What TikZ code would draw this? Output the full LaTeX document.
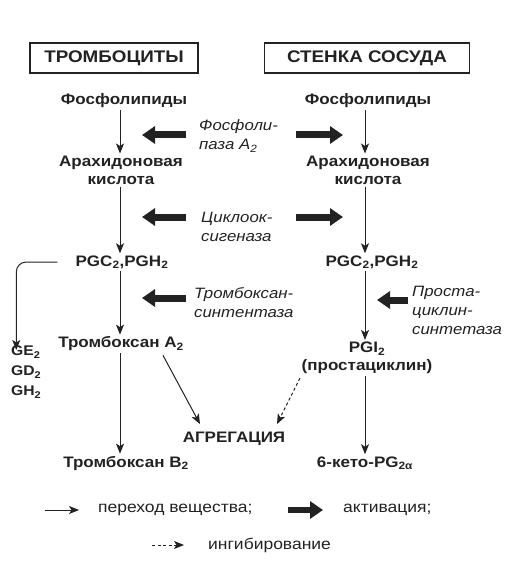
\documentclass[tikz,border=0pt]{standalone}
\usepackage{fontspec}
\setmainfont{Liberation Sans}[FakeStretch=1.12]
\usepackage{xcolor}
\definecolor{inkdark}{HTML}{222222}
\usetikzlibrary{arrows.meta, positioning}

\begin{document}
\begin{tikzpicture}[x=1pt, y=-1pt,
    every node/.style={inkdark},
    subst/.style={font=\fontsize{15.2}{18}\selectfont\bfseries, align=center, inner sep=2pt},
    enzyme/.style={font=\fontsize{15}{19}\selectfont\itshape, align=left, anchor=west, inner sep=0pt},
    titlebox/.style={draw=inkdark, line width=1.4pt, minimum width=168pt, minimum height=30pt,
                     font=\fontsize{16.8}{18}\selectfont\bfseries},
    legtext/.style={font=\fontsize{15.6}{17}\selectfont, anchor=west, inner sep=0pt},
    flow/.style={-{Stealth[length=10pt, width=8pt, inset=2.5pt]}, inkdark, line width=1pt},
    inhib/.style={flow, dash pattern=on 3pt off 2.5pt},
    activ/.style={-{Triangle[length=13pt, width=17pt]}, inkdark, line width=7pt}]
  \useasboundingbox (0,0) rectangle (519,569);

  % Headers
  \node[titlebox] (plate) at (114,58) {ТРОМБОЦИТЫ};
  \node[titlebox, minimum width=205pt] (wall) at (367,58) {СТЕНКА СОСУДА};

  % Left column: platelets
  \node[subst] (phL) at (124,101) {Фосфолипиды};
  \node[subst] (arL) at (121,170) {Арахидоновая\\кислота};
  \node[subst] (pgL) at (122,262) {PGC\textsubscript{2},PGH\textsubscript{2}};
  \node[subst] (txA) at (121,344) {Тромбоксан A\textsubscript{2}};
  \node[subst] (txB) at (126,463) {Тромбоксан B\textsubscript{2}};
  \node[subst, font=\fontsize{14}{20}\selectfont\bfseries, align=left, anchor=north west]
    (side) at (9,344) {GE\textsubscript{2}\\GD\textsubscript{2}\\GH\textsubscript{2}};

  % Right column: vessel wall
  \node[subst] (phR) at (368,101) {Фосфолипиды};
  \node[subst] (arR) at (368,170) {Арахидоновая\\кислота};
  \node[subst] (pgR) at (372,262) {PGC\textsubscript{2},PGH\textsubscript{2}};
  \node[subst] (pgi) at (367,358) {PGI\textsubscript{2}\\(простациклин)};
  \node[subst] (keto) at (365,463) {6-кето-PG\textsubscript{2α}};

  % Aggregation
  \node[subst] (agg) at (234,439) {АГРЕГАЦИЯ};

  % Enzymes
  \node[enzyme] (pla) at (199,136) {Фосфоли-\\паза A\textsubscript{2}};
  \node[enzyme] (cox) at (201,227) {Циклоок-\\сигеназа};
  \node[enzyme] (txs) at (194,303) {Тромбоксан-\\синтентаза};
  \node[enzyme] (pcs) at (412,310) {Проста-\\циклин-\\синтетаза};

  % Substance flow, left
  \draw[flow] (phL.south -| 120,0) -- (arL.north -| 120,0);
  \draw[flow] (arL.south -| 120,0) -- (pgL.north -| 120,0);
  \draw[flow] (pgL.south -| 120,0) -- (txA.north -| 120,0);
  \draw[flow] (txA.south -| 120,0) -- (txB.north -| 120,0);
  \draw[flow, rounded corners=10pt] ([xshift=-16pt]pgL.west) -| ([xshift=-10pt, yshift=-6pt]side.north);

  % Substance flow, right
  \draw[flow] (phR.south -| 365,0) -- (arR.north -| 365,0);
  \draw[flow] (arR.south -| 365,0) -- (pgR.north -| 365,0);
  \draw[flow] (pgR.south -| 365,0) -- (pgi.north -| 365,0);
  \draw[flow] (pgi.south -| 365,0) -- (keto.north -| 365,0);

  % Towards aggregation
  \draw[flow] ([xshift=42pt, yshift=-2pt]txA.south) -- ([xshift=-34pt, yshift=6pt]agg.north);
  \draw[inhib] ([xshift=-67pt, yshift=-2pt]pgi.south) -- ([xshift=43pt, yshift=6pt]agg.north);

  % Activation
  \coordinate (plaA) at (186,135);  \coordinate (plaB) at (142,135);
  \coordinate (plaC) at (296,135);  \coordinate (plaD) at (343,135);
  \coordinate (coxA) at (186,217);  \coordinate (coxB) at (142,217);
  \coordinate (coxC) at (296,217);  \coordinate (coxD) at (343,217);
  \coordinate (txsA) at (186,298);  \coordinate (txsB) at (142,298);
  \coordinate (pcsA) at (408,300);  \coordinate (pcsB) at (377,300);
  \draw[activ] (plaA) -- (plaB);
  \draw[activ] (plaC) -- (plaD);
  \draw[activ] (coxA) -- (coxB);
  \draw[activ] (coxC) -- (coxD);
  \draw[activ] (txsA) -- (txsB);
  \draw[activ] (pcsA) -- (pcsB);

  % Legend
  \node[legtext] (lgflow) at (98,510) {переход вещества;};
  \node[legtext] (lgact) at (343,510) {активация;};
  \node[legtext] (lginh) at (208,545) {ингибирование};
  \draw[flow] ([xshift=-53pt]lgflow.west) -- ([xshift=-19pt]lgflow.west);
  \draw[activ, line width=6.5pt] ([xshift=-55pt]lgact.west) -- ([xshift=-20pt]lgact.west);
  \draw[inhib] ([xshift=-56pt]lginh.west) -- ([xshift=-24pt]lginh.west);
\end{tikzpicture}
\end{document}
